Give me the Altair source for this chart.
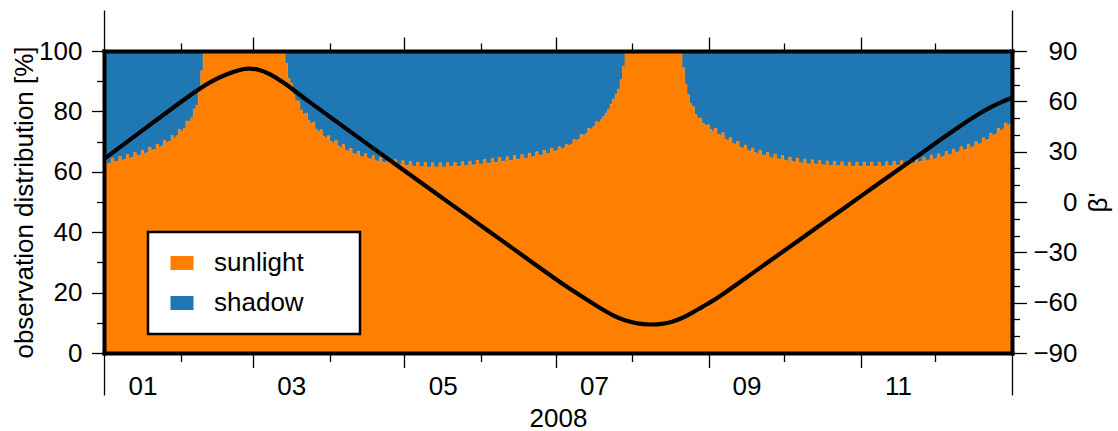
import altair as alt
import pandas as pd

ORANGE = "#ff8000"
BLUE = "#1f77b4"
FONT = "Liberation Sans"
FS = 26

# Daily share of observations taken in sunlight [%], one list per month of 2008
SUN_JAN = [63.9, 62.7, 62.9, 64.5, 63.3, 63.5, 65.1, 63.9, 64.1, 65.7, 64.5, 64.8, 66.4, 65.3, 65.5, 67.2,
           66.0, 66.3, 68.1, 67.1, 67.4, 69.2, 68.2, 68.6, 70.5, 69.6, 70.1, 72.0, 71.2, 71.9, 74.0]
SUN_FEB = [73.4, 74.3, 76.8, 76.7, 77.9, 80.8, 82.0, 87.5, 93.5, 100.0, 100.0, 100.0, 100.0, 100.0, 100.0,
           100.0, 100.0, 100.0, 100.0, 100.0, 100.0, 100.0, 100.0, 100.0, 100.0, 100.0, 100.0, 100.0, 100.0]
SUN_MAR = [100.0, 100.0, 100.0, 100.0, 100.0, 100.0, 100.0, 100.0, 100.0, 100.0, 100.0, 100.0, 100.0,
           96.0, 91.0, 89.4, 85.5, 83.5, 83.4, 80.5, 79.0, 79.4, 77.0, 76.0, 76.4, 74.1, 73.3, 73.9, 71.8,
           71.1, 71.9]
SUN_APR = [70.0, 69.5, 70.4, 68.5, 68.0, 69.0, 67.2, 66.8, 67.8, 66.0, 65.7, 66.8, 65.2, 64.9, 66.0,
           64.4, 64.2, 65.3, 63.7, 63.5, 64.8, 63.2, 63.1, 64.3, 62.8, 62.7, 64.0, 62.5, 62.4, 63.7]
SUN_MAY = [62.2, 62.1, 63.4, 61.9, 61.8, 63.2, 61.7, 61.7, 63.1, 61.6, 61.6, 63.0, 61.6, 61.6, 63.0, 61.6,
           61.6, 63.0, 61.7, 61.7, 63.1, 61.8, 61.8, 63.3, 62.0, 62.0, 63.5, 62.2, 62.3, 63.8, 62.5]
SUN_JUN = [62.6, 64.1, 62.8, 62.9, 64.4, 63.1, 63.2, 64.7, 63.4, 63.5, 65.0, 63.7, 63.8, 65.4, 64.1,
           64.2, 65.7, 64.5, 64.6, 66.2, 64.9, 65.1, 66.6, 65.4, 65.5, 67.1, 66.0, 66.2, 67.9, 66.7]
SUN_JUL = [67.0, 68.3, 67.6, 67.9, 69.2, 68.7, 69.2, 70.7, 70.3, 70.8, 72.4, 72.0, 72.6, 74.4, 74.2, 74.9,
           76.6, 76.3, 77.2, 78.2, 79.5, 80.8, 82.4, 84.0, 85.7, 87.4, 90.5, 95.0, 100.0, 100.0, 100.0]
SUN_AUG = [100.0, 100.0, 100.0, 100.0, 100.0, 100.0, 100.0, 100.0, 100.0, 100.0, 100.0, 100.0, 100.0,
           100.0, 100.0, 100.0, 100.0, 100.0, 100.0, 100.0, 94.5, 89.0, 85.5, 82.5, 81.5, 79.0, 77.8,
           77.8, 76.0, 75.3, 75.6]
SUN_SEP = [74.0, 73.5, 74.4, 72.5, 72.0, 72.9, 70.9, 70.4, 71.3, 69.5, 69.0, 70.0, 68.2, 67.9, 68.9,
           67.2, 66.8, 67.9, 66.3, 66.0, 67.2, 65.5, 65.3, 66.4, 64.8, 64.6, 65.9, 64.3, 64.1, 65.4]
SUN_OCT = [63.8, 63.6, 64.9, 63.4, 63.2, 64.5, 63.0, 62.9, 64.2, 62.7, 62.6, 64.0, 62.5, 62.4, 63.7, 62.3,
           62.2, 63.6, 62.1, 62.1, 63.4, 62.0, 62.0, 63.3, 61.9, 61.9, 63.2, 61.8, 61.8, 63.2, 61.8]
SUN_NOV = [61.8, 63.2, 61.8, 61.8, 63.2, 61.8, 61.8, 63.2, 61.9, 61.9, 63.3, 62.0, 62.0, 63.5, 62.2,
           62.2, 63.7, 62.4, 62.5, 64.0, 62.8, 62.9, 64.5, 63.2, 63.4, 64.9, 63.7, 63.9, 65.5, 64.2]
SUN_DEC = [64.4, 66.0, 64.8, 65.1, 66.7, 65.6, 65.8, 67.5, 66.3, 66.6, 68.3, 67.2, 67.4, 69.1, 68.0, 68.3,
           70.0, 69.0, 69.5, 71.3, 70.4, 70.8, 72.8, 71.9, 72.5, 74.4, 73.6, 74.2, 76.2, 75.4, 76.0]
SUN_MONTHS = [SUN_JAN, SUN_FEB, SUN_MAR, SUN_APR, SUN_MAY, SUN_JUN,
              SUN_JUL, SUN_AUG, SUN_SEP, SUN_OCT, SUN_NOV, SUN_DEC]

# beta' angle [deg] at selected days of the year
BETA_DAY = [0, 7, 14, 22, 30, 38, 44, 50, 55, 58, 62, 67, 72, 77, 81, 90, 100, 110, 120, 130, 140,
            150, 160, 170, 180, 186, 192, 199, 205, 210, 215, 220, 225, 229, 233, 237, 241, 245, 248,
            255, 262, 270, 280, 290, 300, 310, 320, 330, 338, 345, 352, 358, 362, 366]
BETA_DEG = [25.6, 33.3, 41.0, 49.8, 58.6, 67.2, 72.6, 76.6, 79.0, 79.7, 79.2, 76.4, 71.6, 66.2, 61.5,
            51.9, 41.2, 30.5, 19.8, 9.2, -1.4, -12.0, -22.6, -33.2, -43.8, -50.0, -55.8, -62.3, -67.6,
            -70.7, -72.5, -73.2, -72.8, -71.5, -69.3, -66.2, -62.6, -59.3, -56.5, -49.2, -41.8, -33.4,
            -22.9, -12.4, -1.9, 8.6, 19.1, 29.6, 38.0, 45.3, 52.0, 57.0, 59.8, 62.0]

# calendar of 2008 in day-of-year units
MONTH_START = [0, 31, 60, 91, 121, 152, 182, 213, 244, 274, 305, 335]
YEAR_LEN = 366
MONTH_LABELS = ["01", "03", "05", "07", "09", "11"]
LABEL_DAY = [15.5, 75.5, 136.5, 197.5, 259, 320]
YEAR_LABEL = "2008"

sun = [v for month in SUN_MONTHS for v in month]
bars = pd.DataFrame({"day": list(range(len(sun))) + [len(sun)], "sun": sun + [sun[-1]]})
beta = pd.DataFrame({"day": BETA_DAY, "beta": BETA_DEG})
dummy = pd.DataFrame({"day": [0.0], "pct": [0.0], "beta": [0.0]})

XS = alt.Scale(domain=[0, YEAR_LEN], nice=False, zero=False)
PS = alt.Scale(domain=[0, 100], nice=False)
BS = alt.Scale(domain=[-90, 90], nice=False)

odd_starts = MONTH_START[2::2]
even_starts = MONTH_START[1::2]

common = dict(grid=False, title=None, labelFont=FONT, labelFontSize=FS, labelColor="black",
              tickColor="black", tickWidth=1.3, domain=False, zindex=1,
              labelOverlap=False, labelFlush=False)
frame = dict(domain=True, domainColor="black", domainWidth=4, domainCap="square")


def pick(*drop):
    return {k: v for k, v in common.items() if k not in drop}


x_bot_odd = alt.Axis(orient="bottom", values=odd_starts, tickSize=14.5, labels=False, **frame,
                     **pick("domain"))
x_bot_even = alt.Axis(orient="bottom", values=even_starts, tickSize=8.5, labels=False, **common)
x_bot_year = alt.Axis(orient="bottom", values=[0, YEAR_LEN], tickSize=42, labels=False, **common)
label_expr = "%s[indexof(%s, datum.value)]" % (
    "[" + ",".join("'%s'" % s for s in MONTH_LABELS) + "]",
    "[" + ",".join(str(d) for d in LABEL_DAY) + "]")
x_bot_lab = alt.Axis(orient="bottom", values=LABEL_DAY, ticks=False, tickSize=0, labelPadding=20,
                     labelExpr=label_expr, **pick("title"),
                     title=YEAR_LABEL, titleFont=FONT, titleFontSize=FS, titleFontWeight="normal",
                     titleColor="black", titleY=52, titleBaseline="top")
x_top_odd = alt.Axis(orient="top", values=odd_starts, tickSize=14, labels=False, **frame,
                     **pick("domain"))
x_top_even = alt.Axis(orient="top", values=even_starts, tickSize=8, labels=False, **common)
x_top_year = alt.Axis(orient="top", values=[0, YEAR_LEN], tickSize=41, labels=False, **common)

y_left_major = alt.Axis(orient="left", values=list(range(0, 101, 20)), tickSize=12.5, labelPadding=9.5,
                        **frame, **pick("domain", "title"),
                        title="observation distribution [%]", titleFont=FONT, titleFontSize=FS,
                        titleFontWeight="normal", titleColor="black", titleX=-80, titleY=151,
                        titleAngle=270, titleAlign="center", titleBaseline="middle")
y_left_minor = alt.Axis(orient="left", values=list(range(10, 100, 20)), tickSize=7.5, labels=False,
                        **common)
y_right_major = alt.Axis(orient="right", values=list(range(-90, 91, 30)), tickSize=14.5,
                         labelPadding=50.5, labelAlign="right",
                         **frame, **pick("domain", "title"),
                         title="β'", titleFont=FONT, titleFontSize=FS, titleFontWeight="normal",
                         titleColor="black", titleX=86, titleY=151, titleAngle=270,
                         titleAlign="center", titleBaseline="middle")
y_right_minor = alt.Axis(orient="right", values=[v for v in range(-80, 90, 10) if v % 30 != 0],
                         tickSize=7.5, labels=False, **common)

# blank braille cells widen the legend box to the right of the labels
legend = alt.Legend(orient="none", legendX=44, legendY=181, title=None, fillColor="white",
                    strokeColor="black", padding=18, symbolType="M-1,-0.61H1V0.61H-1Z",
                    symbolSize=529, symbolStrokeWidth=0, symbolOpacity=1, symbolOffset=3,
                    labelOffset=19, rowPadding=14, labelFont=FONT, labelFontSize=FS,
                    labelColor="black",
                    labelExpr="datum.label + '\u2800\u2800'")
color = alt.Color("kind:N", scale=alt.Scale(domain=["sunlight", "shadow"], range=[ORANGE, BLUE]),
                  legend=legend)

shadow = alt.Chart(bars).transform_calculate(kind="'shadow'").mark_area(
    interpolate="step-after").encode(
    x=alt.X("day:Q", scale=XS, axis=x_bot_odd),
    y=alt.Y("sun:Q", scale=PS, axis=y_left_major),
    y2=alt.datum(100),
    color=color)

sunlight = alt.Chart(bars).transform_calculate(kind="'sunlight'").mark_area(
    interpolate="step-after", stroke=ORANGE, strokeWidth=0.6).encode(
    x=alt.X("day:Q", scale=XS, axis=x_bot_even),
    y=alt.Y("sun:Q", scale=PS, axis=y_left_minor),
    color=color)


def axis_holder(x_axis):
    return alt.Chart(dummy).mark_point(opacity=0).encode(
        x=alt.X("day:Q", scale=XS, axis=x_axis),
        y=alt.Y("pct:Q", scale=PS, axis=None))


left = alt.layer(
    shadow, sunlight,
    axis_holder(x_bot_year), axis_holder(x_bot_lab),
    axis_holder(x_top_odd), axis_holder(x_top_even), axis_holder(x_top_year),
).resolve_axis(x="independent", y="independent")

beta_line = alt.Chart(beta).mark_line(color="black", strokeWidth=4.2, interpolate="basis").encode(
    x=alt.X("day:Q", scale=XS, axis=None),
    y=alt.Y("beta:Q", scale=BS, axis=y_right_major))
beta_minor = alt.Chart(dummy).mark_point(opacity=0).encode(
    x=alt.X("day:Q", scale=XS, axis=None),
    y=alt.Y("beta:Q", scale=BS, axis=y_right_minor))
right = alt.layer(beta_line, beta_minor).resolve_axis(x="independent", y="independent")

chart = alt.layer(left, right).resolve_scale(y="independent").resolve_axis(
    x="independent", y="independent"
).properties(
    width=908, height=302,
    autosize=alt.AutoSizeParams(type="none"),
    padding={"left": 104, "top": 51, "right": 106, "bottom": 78},
).configure(font=FONT).configure_view(stroke=None).configure_legend(strokeWidth=2.5)

chart.save("out.html", embed_options={"renderer": "svg", "actions": False})
